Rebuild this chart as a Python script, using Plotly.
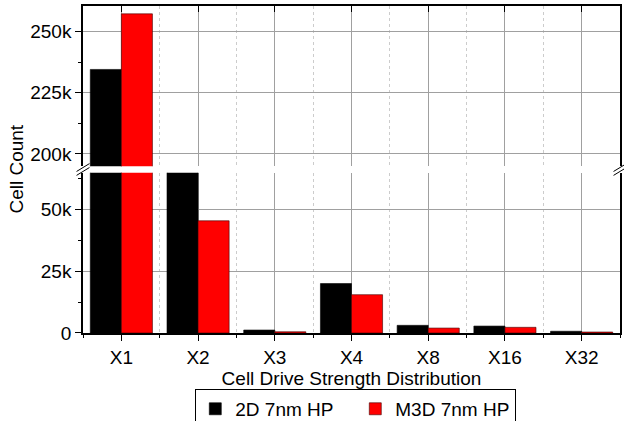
import plotly.graph_objects as go

categories = ["X1", "X2", "X3", "X4", "X8", "X16", "X32"]
series_2d = [234500, 66000, 1200, 20000, 3100, 2800, 700]
series_m3d = [257200, 45400, 500, 15500, 2000, 2300, 400]
series_names = ["2D 7nm HP", "M3D 7nm HP"]
lower_ticks = [0, 25000, 50000]
lower_labels = ["0", "25k", "50k"]
upper_ticks = [200000, 225000, 250000]
upper_labels = ["200k", "225k", "250k"]

xpos = list(range(len(categories)))
FONT = "Liberation Sans, Arial, sans-serif"
GRID = "#a0a0a0"
FS = 19
LO_RANGE = [0, 64800]
UP_RANGE = [195000, 260400]
X_RANGE = [-0.5, 6.5]

fig = go.Figure()
for name, vals, col in [(series_names[0], series_2d, "#000000"), (series_names[1], series_m3d, "#ff0000")]:
    for xa, ya, show in [("x", "y", True), ("x2", "y2", False)]:
        fig.add_trace(go.Bar(x=xpos, y=vals, name=name,
                             marker=dict(color=col, line=dict(color="#400000" if col != "#000000" else "#000", width=0.6)),
                             xaxis=xa, yaxis=ya, showlegend=show, legendgroup=name, offsetgroup=name))

lo_dom = [0, 0.4898]
up_dom = [0.5102, 1]
xcommon = dict(range=X_RANGE, showgrid=True, gridcolor=GRID, gridwidth=1, zeroline=False,
               tickvals=xpos, linecolor="black", linewidth=1.5, automargin=False)
ycommon = dict(showgrid=True, gridcolor=GRID, zeroline=False, showline=True, mirror=True, automargin=False,
               linecolor="black", linewidth=1.5, ticks="outside", ticklen=6, tickcolor="black",
               minor=dict(dtick=12500, tick0=0, ticks="outside", ticklen=3, tickcolor="black", showgrid=False))
yright = dict(side="right", showgrid=False, zeroline=False, showline=False, showticklabels=False,
              automargin=False, ticks="inside", ticklen=5, tickcolor="black",
              minor=dict(dtick=12500, tick0=0, ticks="inside", ticklen=3, tickcolor="black", showgrid=False))
fig.update_layout(
    width=624, height=421, plot_bgcolor="white", paper_bgcolor="white",
    margin=dict(l=83, r=4, t=6, b=88, autoexpand=False),
    barmode="group", bargap=0.19, bargroupgap=0,
    font=dict(family=FONT, size=FS, color="black"),
    xaxis=dict(**xcommon, anchor="y", ticktext=categories, showline=True, mirror=False,
               ticks="outside", ticklen=6, tickcolor="black",
               minor=dict(tick0=0.5, dtick=1, ticks="outside", ticklen=3, tickcolor="black",
                          showgrid=True, gridcolor="#cccccc", griddash="dot", gridwidth=1),
               title=dict(text="Cell Drive Strength Distribution", standoff=3, font=dict(size=FS))),
    xaxis2=dict(**xcommon, anchor="y2", matches="x", side="top", showline=True, ticks="inside",
                ticklen=6, tickcolor="black", showticklabels=False,
                minor=dict(tick0=0.5, dtick=1, showgrid=True, gridcolor="#cccccc", griddash="dot", gridwidth=1)),
    yaxis=dict(**ycommon, domain=lo_dom, range=LO_RANGE, tickvals=lower_ticks, ticktext=lower_labels),
    yaxis2=dict(**ycommon, domain=up_dom, range=UP_RANGE, tickvals=upper_ticks, ticktext=upper_labels),
    yaxis3=dict(**yright, overlaying="y", anchor="x", range=LO_RANGE, tickvals=lower_ticks),
    yaxis4=dict(**yright, overlaying="y2", anchor="x2", range=UP_RANGE, tickvals=upper_ticks),
    legend=dict(orientation="h", x=0.508, xanchor="center", y=-0.171, yanchor="top",
                bordercolor="black", borderwidth=1, bgcolor="white", font=dict(size=FS),
                entrywidth=115, tracegroupgap=0),
    annotations=[dict(text="Cell Count", textangle=-90, xref="paper", yref="paper", x=-0.124, y=0.501,
                      xanchor="center", yanchor="middle", showarrow=False, font=dict(size=FS))],
)

# axis-break marks
shapes = []
for xp in [0.0, 1.0]:
    for dy in [-0.006, 0.006]:
        shapes.append(dict(type="line", xref="paper", yref="paper",
                           x0=xp - 0.012, x1=xp + 0.012, y0=0.5 + dy - 0.012, y1=0.5 + dy + 0.012,
                           line=dict(color="black", width=1)))
fig.update_layout(shapes=shapes)

fig.write_html("out.html", config={"displayModeBar": False},
               post_script="document.body.style.margin='0';document.body.style.overflow='hidden';")
